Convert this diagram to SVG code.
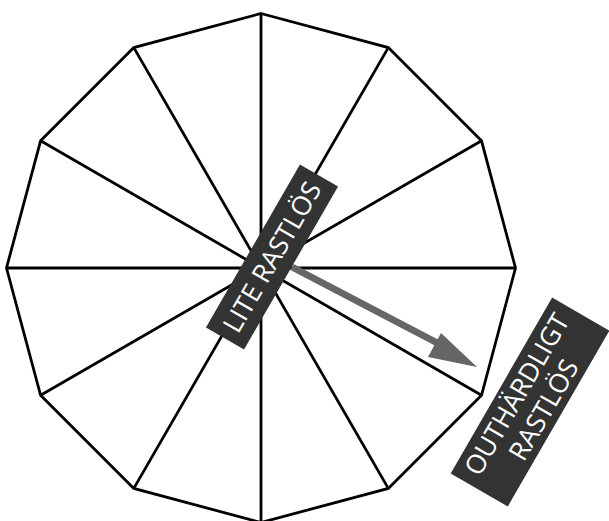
<svg xmlns="http://www.w3.org/2000/svg" width="609" height="521" viewBox="0 0 609 521">
<style>
.edge{stroke:#000;stroke-width:2.8;fill:none;stroke-linejoin:miter}
.box{fill:#333}
.lbl{fill:#fff;font-family:"Open Sans","DejaVu Sans",sans-serif;font-size:26.5px;font-weight:500;text-anchor:middle}
</style>
<rect width="609" height="521" fill="#fff"/>
<g id="wheel">
<polygon class="edge" points="261,13.5 388.3,47.6 481.5,140.8 515.5,268 481.5,395.3 388.3,488.4 261,522.5 133.8,488.4 40.6,395.3 6.5,268 40.6,140.8 133.8,47.6"/>
</g>
<g id="connectors">
<line class="edge" x1="261" y1="13.5" x2="261" y2="522.5"/>
<line class="edge" x1="388.3" y1="47.6" x2="133.8" y2="488.4"/>
<line class="edge" x1="481.5" y1="140.8" x2="40.6" y2="395.3"/>
<line class="edge" x1="515.5" y1="268" x2="6.5" y2="268"/>
<line class="edge" x1="481.5" y1="395.3" x2="40.6" y2="140.8"/>
<line class="edge" x1="388.3" y1="488.4" x2="133.8" y2="47.6"/>
<line x1="292" y1="267" x2="445" y2="347" stroke="#666" stroke-width="7"/>
<polygon points="477,367 441,333 428,357" fill="#666"/>
</g>
<g id="lite" transform="translate(272,257) rotate(-60)">
<rect class="box" x="-94" y="-22" width="188" height="44"/>
<text class="lbl" x="0" y="9.5">LITE RASTLÖS</text>
</g>
<g id="outhardligt" transform="translate(530,402) rotate(-60)">
<rect class="box" x="-101.5" y="-33" width="203" height="66"/>
<text class="lbl" x="0" y="-6">OUTHÄRDLIGT</text>
<text class="lbl" x="0" y="25">RASTLÖS</text>
</g>
</svg>
